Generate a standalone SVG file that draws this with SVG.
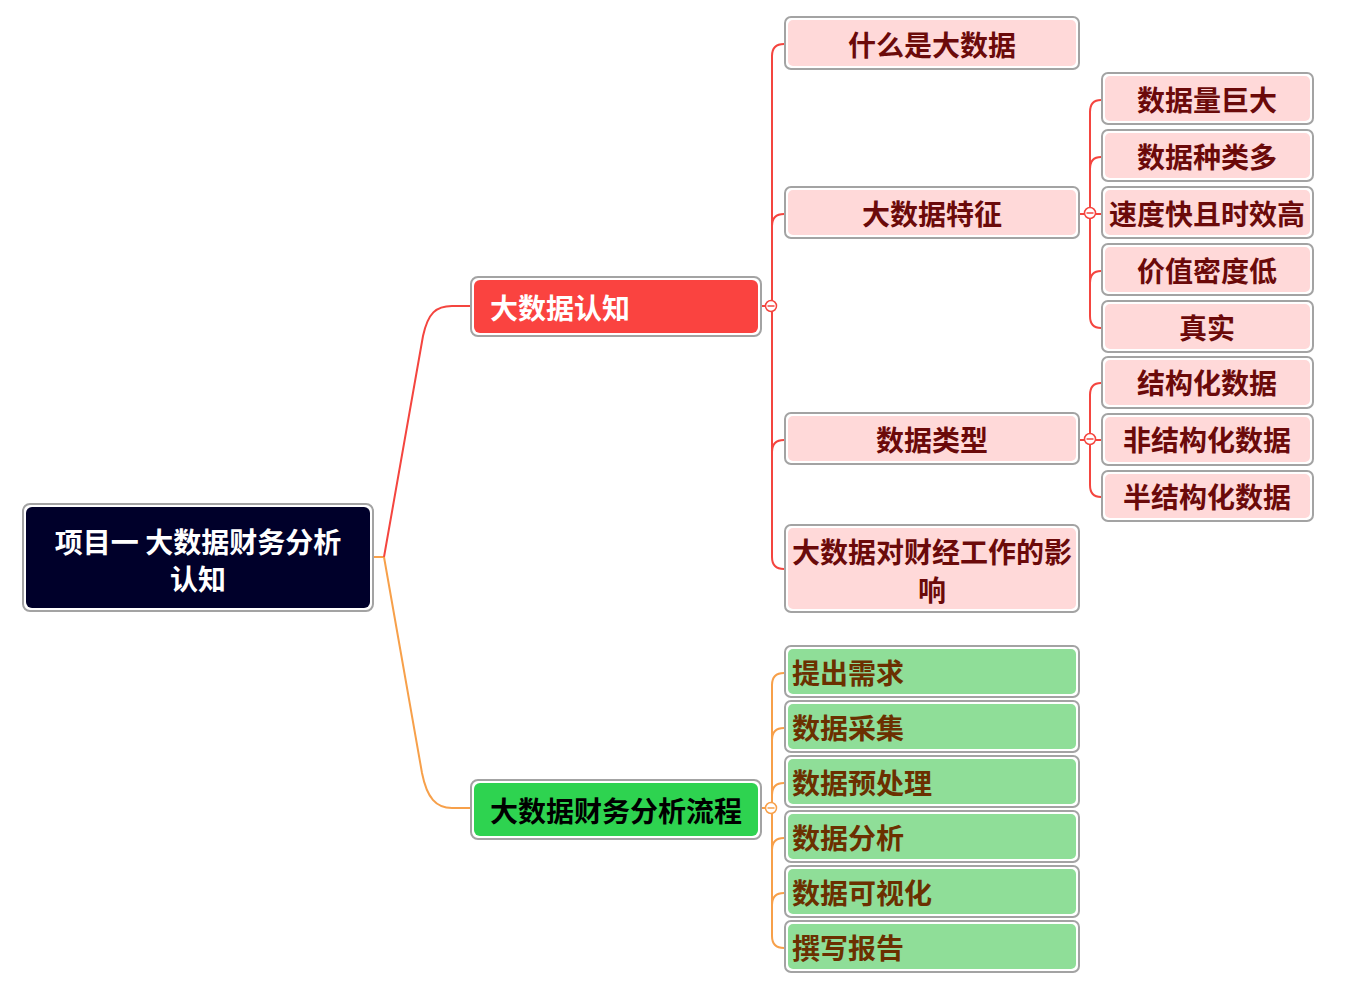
<svg xmlns="http://www.w3.org/2000/svg" width="1349" height="995" viewBox="0 0 1349 995">
<style>
.frame{fill:#ffffff;stroke:#a3a3a3;stroke-width:2}
.t{font-family:"Noto Sans CJK SC","Noto Sans",sans-serif;font-weight:700;font-size:28px;dominant-baseline:central}
.pink{fill:#ffd9d9}
.green{fill:#8fde98}
.ptxt{fill:#6b0a0a;text-anchor:middle}
.gtxt{fill:#6b3000}
.rl{fill:none;stroke:#f4453f;stroke-width:2}
.ol{fill:none;stroke:#f7a04a;stroke-width:2}
.rc{fill:#ffffff;stroke:#f4453f;stroke-width:1.5}
.oc{fill:#ffffff;stroke:#f7a04a;stroke-width:1.5}
</style>
<rect width="1349" height="995" fill="#ffffff"/>
<g id="connectors">
  <path class="ol" d="M374 557 L384 557"/>
  <path class="rl" d="M384 557 L423 336 C428 313 436 306 452 306 L470 306"/>
  <path class="ol" d="M384 557 L422 773 C427 798 436 808 452 808 L470 808"/>
  <path class="rl" d="M762 306 L772 306"/>
  <path class="rl" d="M784 44 Q772 44 772 56 L772 557 Q772 569 784 569"/>
  <path class="rl" d="M772 226 Q772 214 784 214"/>
  <path class="rl" d="M772 452 Q772 440 784 440"/>
  <path class="rl" d="M1080 214 L1101 214"/>
  <path class="rl" d="M1101 100 Q1090 100 1090 112 L1090 316 Q1090 328 1101 328"/>
  <path class="rl" d="M1090 169 Q1090 157 1101 157"/>
  <path class="rl" d="M1090 283 Q1090 271 1101 271"/>
  <path class="rl" d="M1080 440 L1101 440"/>
  <path class="rl" d="M1101 383 Q1090 383 1090 395 L1090 485 Q1090 497 1101 497"/>
  <path class="ol" d="M762 808 L772 808"/>
  <path class="ol" d="M784 673 Q772 673 772 685 L772 936 Q772 948 784 948"/>
  <path class="ol" d="M772 740 Q772 728 784 728"/>
  <path class="ol" d="M772 795 Q772 783 784 783"/>
  <path class="ol" d="M772 850 Q772 838 784 838"/>
  <path class="ol" d="M772 905 Q772 893 784 893"/>
  <circle class="rc" cx="771" cy="306" r="5.5"/><path d="M767.5 306 H774.5" stroke="#f4453f" stroke-width="1.5"/>
  <circle class="rc" cx="1090" cy="213" r="5.5"/><path d="M1086.5 213 H1093.5" stroke="#f4453f" stroke-width="1.5"/>
  <circle class="rc" cx="1090" cy="439" r="5.5"/><path d="M1086.5 439 H1093.5" stroke="#f4453f" stroke-width="1.5"/>
  <circle class="oc" cx="771" cy="808" r="5.5"/><path d="M767.5 808 H774.5" stroke="#f7a04a" stroke-width="1.5"/>
</g>
<g id="root">
  <rect class="frame" x="23" y="504" width="350" height="107" rx="7"/>
  <rect x="26" y="507" width="344" height="101" rx="6" fill="#00002a"/>
  <text class="t" x="198" y="541" fill="#ffffff" text-anchor="middle">项目一 大数据财务分析</text>
  <text class="t" x="198" y="578" fill="#ffffff" text-anchor="middle">认知</text>
</g>
<g id="n-bigdata">
  <rect class="frame" x="471" y="277" width="290" height="59" rx="7"/>
  <rect x="474" y="280" width="284" height="53" rx="6" fill="#fa4340"/>
  <text class="t" x="490" y="307" fill="#ffffff">大数据认知</text>
</g>
<g id="n-process">
  <rect class="frame" x="471" y="780" width="290" height="59" rx="7"/>
  <rect x="474" y="783" width="284" height="53" rx="6" fill="#2ed350"/>
  <text class="t" x="490" y="810" fill="#000000">大数据财务分析流程</text>
</g>
<g id="n-what">
  <rect class="frame" x="785" y="17" width="294" height="52" rx="6"/>
  <rect class="pink" x="788" y="20" width="288" height="46" rx="5"/>
  <text class="t ptxt" x="932" y="44">什么是大数据</text>
</g>
<g id="n-feature">
  <rect class="frame" x="785" y="187" width="294" height="51" rx="6"/>
  <rect class="pink" x="788" y="190" width="288" height="45" rx="5"/>
  <text class="t ptxt" x="932" y="213">大数据特征</text>
</g>
<g id="n-type">
  <rect class="frame" x="785" y="413" width="294" height="51" rx="6"/>
  <rect class="pink" x="788" y="416" width="288" height="45" rx="5"/>
  <text class="t ptxt" x="932" y="439">数据类型</text>
</g>
<g id="n-impact">
  <rect class="frame" x="785" y="525" width="294" height="87" rx="6"/>
  <rect class="pink" x="788" y="528" width="288" height="81" rx="5"/>
  <text class="t ptxt" x="932" y="551">大数据对财经工作的影</text>
  <text class="t ptxt" x="932" y="589">响</text>
</g>
<g id="n-f1">
  <rect class="frame" x="1102" y="73" width="211" height="51" rx="6"/>
  <rect class="pink" x="1105" y="76" width="205" height="45" rx="5"/>
  <text class="t ptxt" x="1207" y="99">数据量巨大</text>
</g>
<g id="n-f2">
  <rect class="frame" x="1102" y="130" width="211" height="51" rx="6"/>
  <rect class="pink" x="1105" y="133" width="205" height="45" rx="5"/>
  <text class="t ptxt" x="1207" y="156">数据种类多</text>
</g>
<g id="n-f3">
  <rect class="frame" x="1102" y="187" width="211" height="51" rx="6"/>
  <rect class="pink" x="1105" y="190" width="205" height="45" rx="5"/>
  <text class="t ptxt" x="1207" y="213">速度快且时效高</text>
</g>
<g id="n-f4">
  <rect class="frame" x="1102" y="244" width="211" height="51" rx="6"/>
  <rect class="pink" x="1105" y="247" width="205" height="45" rx="5"/>
  <text class="t ptxt" x="1207" y="270">价值密度低</text>
</g>
<g id="n-f5">
  <rect class="frame" x="1102" y="301" width="211" height="51" rx="6"/>
  <rect class="pink" x="1105" y="304" width="205" height="45" rx="5"/>
  <text class="t ptxt" x="1207" y="327">真实</text>
</g>
<g id="n-t1">
  <rect class="frame" x="1102" y="357" width="211" height="51" rx="6"/>
  <rect class="pink" x="1105" y="360" width="205" height="45" rx="5"/>
  <text class="t ptxt" x="1207" y="382">结构化数据</text>
</g>
<g id="n-t2">
  <rect class="frame" x="1102" y="414" width="211" height="51" rx="6"/>
  <rect class="pink" x="1105" y="417" width="205" height="45" rx="5"/>
  <text class="t ptxt" x="1207" y="439">非结构化数据</text>
</g>
<g id="n-t3">
  <rect class="frame" x="1102" y="471" width="211" height="50" rx="6"/>
  <rect class="pink" x="1105" y="474" width="205" height="44" rx="5"/>
  <text class="t ptxt" x="1207" y="496">半结构化数据</text>
</g>
<g id="n-p1">
  <rect class="frame" x="785" y="646" width="294" height="51" rx="6"/>
  <rect class="green" x="788" y="649" width="288" height="45" rx="5"/>
  <text class="t gtxt" x="792" y="672">提出需求</text>
</g>
<g id="n-p2">
  <rect class="frame" x="785" y="701" width="294" height="51" rx="6"/>
  <rect class="green" x="788" y="704" width="288" height="45" rx="5"/>
  <text class="t gtxt" x="792" y="727">数据采集</text>
</g>
<g id="n-p3">
  <rect class="frame" x="785" y="756" width="294" height="51" rx="6"/>
  <rect class="green" x="788" y="759" width="288" height="45" rx="5"/>
  <text class="t gtxt" x="792" y="782">数据预处理</text>
</g>
<g id="n-p4">
  <rect class="frame" x="785" y="811" width="294" height="51" rx="6"/>
  <rect class="green" x="788" y="814" width="288" height="45" rx="5"/>
  <text class="t gtxt" x="792" y="837">数据分析</text>
</g>
<g id="n-p5">
  <rect class="frame" x="785" y="866" width="294" height="51" rx="6"/>
  <rect class="green" x="788" y="869" width="288" height="45" rx="5"/>
  <text class="t gtxt" x="792" y="892">数据可视化</text>
</g>
<g id="n-p6">
  <rect class="frame" x="785" y="921" width="294" height="51" rx="6"/>
  <rect class="green" x="788" y="924" width="288" height="45" rx="5"/>
  <text class="t gtxt" x="792" y="947">撰写报告</text>
</g>
</svg>
